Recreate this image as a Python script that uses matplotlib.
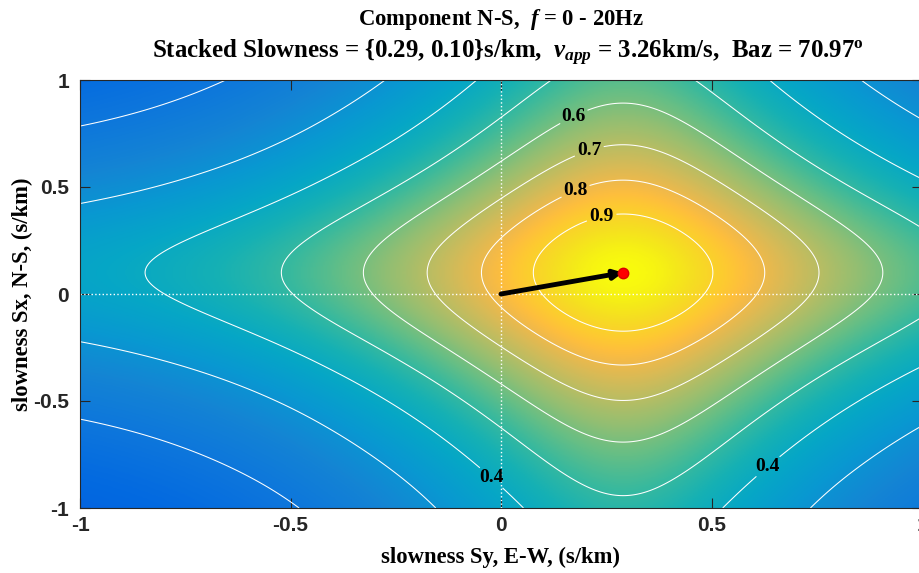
import numpy as np
import matplotlib
matplotlib.use('Agg')
import matplotlib.pyplot as plt
from matplotlib.colors import LinearSegmentedColormap

# stacked slowness (Sy E-W, Sx N-S) in s/km and the band used
peak_slowness = [0.29, 0.10]
freq_band = [0, 20]
component = 'N-S'

plain_levels = [0.2, 0.3, 0.5]
label_levels = [0.4, 0.6, 0.7, 0.8, 0.9]
label_spots = [(0.17, 0.84), (0.21, 0.665), (0.175, 0.49), (0.24, 0.35),
               (-0.055, -0.93), (0.64, -0.82)]

tick_values = [-1, -0.5, 0, 0.5, 1]
tick_labels = ['-1', '-0.5', '0', '0.5', '1']

half_width_sy = 0.81
half_width_sx = 1.04
core_width = 0.35
tail_power = 1.2
tail_soften = 0.3
cross_term = 2.0

# parula (matlab) anchors
parula_pts = [
    (0.2081, 0.1663, 0.5292), (0.1959, 0.2645, 0.7279), (0.0591, 0.3598, 0.8683),
    (0.0060, 0.4086, 0.8828), (0.0498, 0.4586, 0.8641), (0.0793, 0.5200, 0.8312),
    (0.0343, 0.5966, 0.8199), (0.0228, 0.6535, 0.7768), (0.0843, 0.6928, 0.7062),
    (0.2178, 0.7250, 0.6193), (0.3953, 0.7459, 0.5244), (0.5709, 0.7485, 0.4494),
    (0.7184, 0.7411, 0.3905), (0.8507, 0.7299, 0.3360), (0.9450, 0.7261, 0.2886),
    (0.9938, 0.7455, 0.2403), (0.9955, 0.7861, 0.1967), (0.9789, 0.8271, 0.1633),
    (0.9626, 0.8705, 0.1309), (0.9598, 0.9218, 0.0948), (0.9763, 0.9831, 0.0538)]
parula_idx = [0, 4, 7, 9, 12, 16, 20, 24, 28, 32, 36, 40, 44, 48, 51, 53, 55, 57, 59, 61, 63]
parula = LinearSegmentedColormap.from_list(
    'parula', [(i / 63, c) for i, c in zip(parula_idx, parula_pts)])

plt.rcParams['font.family'] = ['Liberation Serif', 'DejaVu Serif']
plt.rcParams['font.weight'] = 'bold'
plt.rcParams['mathtext.fontset'] = 'custom'
plt.rcParams['mathtext.rm'] = 'Liberation Serif:bold'
plt.rcParams['mathtext.it'] = 'Liberation Serif:italic:bold'
plt.rcParams['mathtext.bf'] = 'Liberation Serif:bold'


def falloff(d, w):
    u = np.abs(d) / w
    x = u / core_width
    norm = (1 + 1 / core_width ** 2) ** (tail_power / 2) - 1
    val = ((1 + x ** 2) ** (tail_power / 2) - 1) / norm
    return val / (1 + tail_soften * np.clip(u - 0.9, 0, None) ** 2)


sy = np.linspace(-1, 1, 501)
sx = np.linspace(-1, 1, 501)
SY, SX = np.meshgrid(sy, sx)
a = falloff(SY - peak_slowness[0], half_width_sy)
b = falloff(SX - peak_slowness[1], half_width_sx)
power = 1 / (1 + a + b + cross_term * a * b)

v_app = 1 / np.hypot(peak_slowness[0], peak_slowness[1])
baz = np.degrees(np.arctan2(peak_slowness[0], peak_slowness[1]))

fig = plt.figure(figsize=(9.19, 5.73), dpi=100)
ax = fig.add_axes([80 / 919, 1 - 508 / 573, 842 / 919, 428 / 573])

ax.imshow(power, extent=[-1, 1, -1, 1], origin='lower', aspect='auto',
          cmap=parula, vmin=0, vmax=1, interpolation='bilinear')
ax.contour(SY, SX, power, levels=plain_levels, colors='white', linewidths=0.75)
cs = ax.contour(SY, SX, power, levels=label_levels, colors='white', linewidths=0.75)
labels = ax.clabel(cs, manual=label_spots, inline=True,
                   fmt='%.1f', fontsize=14, colors='k', inline_spacing=3)
for t in labels:
    t.set_rotation(0)

ax.axvline(0, color='white', ls=':', lw=1)
ax.axhline(0, color='white', ls=':', lw=1)

ax.annotate('', xy=(peak_slowness[0], peak_slowness[1]), xytext=(0, 0),
            arrowprops=dict(arrowstyle='-|>', color='k', lw=3.5,
                            mutation_scale=13, shrinkA=0, shrinkB=0))
ax.plot(peak_slowness[0], peak_slowness[1], 'o', color='red', ms=7.5,
        mec=(0.85, 0, 0), zorder=5)

ax.set_xlim(-1, 1)
ax.set_ylim(-1, 1)
ax.set_xticks(tick_values)
ax.set_yticks(tick_values)
ax.set_xticklabels(tick_labels, fontfamily='Liberation Sans', fontweight='bold', fontsize=15)
ax.set_yticklabels(tick_labels, fontfamily='Liberation Sans', fontweight='bold', fontsize=15)
ax.tick_params(direction='in', length=7, width=0.8, top=True, right=True,
               color='#262626', labelcolor='#262626')
ax.tick_params(axis='x', pad=6)
ax.tick_params(axis='y', pad=8)
for sp in ax.spines.values():
    sp.set_color('#262626')
    sp.set_linewidth(0.8)

cx = (80 + 842 / 2) / 919
fig.text(cx, 1 - 25 / 573,
         'Component %s,  $f$ = %d - %dHz' % (component, freq_band[0], freq_band[1]),
         ha='center', va='baseline', fontsize=16.3)
fig.text(cx + 7 / 919, 1 - 58 / 573,
         'Stacked Slowness = {%.2f, %.2f}s/km,  $v_{app}$ = %.2fkm/s,  Baz = %.2f$^{\\mathrm{o}}$'
         % (peak_slowness[0], peak_slowness[1], v_app, baz),
         ha='center', va='baseline', fontsize=17.9)
fig.text(cx, 1 - 557 / 573, 'slowness Sy, E-W, (s/km)', ha='center', va='center', fontsize=16.3)
fig.text(22 / 919, 1 - 294 / 573, 'slowness Sx, N-S, (s/km)', ha='center', va='center',
         rotation=90, fontsize=16.3)

fig.savefig('out.png', dpi=100)
